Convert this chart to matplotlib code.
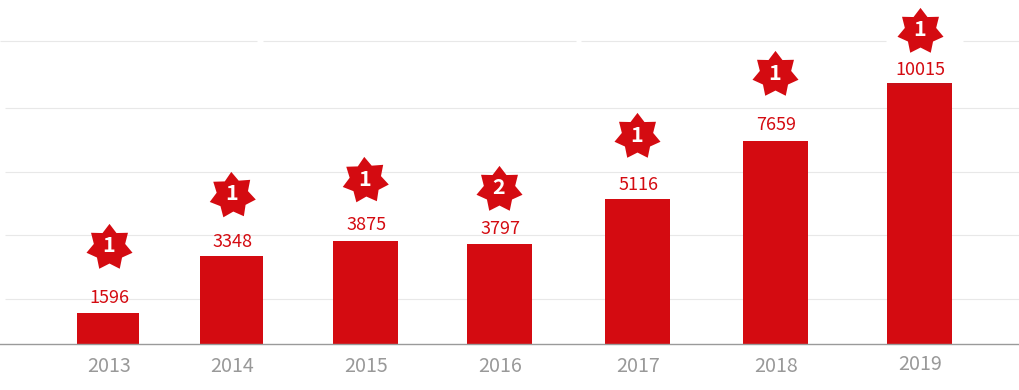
import matplotlib
matplotlib.use('Agg')
import matplotlib.pyplot as plt
from matplotlib.path import Path
from matplotlib.transforms import Affine2D

plt.rcParams['font.family'] = ['Noto Sans CJK KR', 'DejaVu Sans']

years = ['2013', '2014', '2015', '2016', '2017', '2018', '2019']
# printed on the chart
labels = [1596, 3348, 3875, 3797, 5116, 7659, 10015]
ranks = [1, 1, 1, 2, 1, 1, 1]
# bar heights as drawn, the picture does not scale them exactly with the labels
heights = [1190, 3400, 3980, 3870, 5620, 7890, 10150]
grid_levels = [1740, 4240, 6700, 9200]
top_level = 11810

RED = '#d40b11'
px = 39.0  # value units per pixel

centers = [108, 231.5, 365.5, 499.5, 637.5, 775.5, 919.5]
widths = [62, 63, 65, 65, 65, 65, 65]
star_x = [109, 232, 365, 499, 637, 775, 920]
star_y = [247, 195, 180, 189, 136, 74, 31]
star_rot = [0, 3, 3, 0, 0, 0, 0]
label_gap = [6, 5, 7, 6, 5, 7, 4]
year_y = [366, 366, 366, 366, 366, 367, 364]
base_y = 343.5

fig = plt.figure(figsize=(10.19, 3.90), dpi=100)
ax = fig.add_axes([0, 0, 1, 1])
ax.set_xlim(0, 1019)
ax.set_ylim(-(390 - base_y) * px, base_y * px)
ax.axis('off')


def to_val(y):
    return (base_y - y) * px


for g in grid_levels:
    ax.hlines(g, 5, 1019, color='#e8e8e8', lw=0.8, zorder=1)
# top line has gaps in it
for x0, x1 in [(0, 257), (263, 576), (581, 886), (963, 1019)]:
    ax.hlines(top_level, x0, x1, color='#e8e8e8', lw=0.8, zorder=1)
ax.axhline(0, color='#9a9a9a', lw=1, zorder=3)

ax.bar(centers, heights, width=widths, color=RED, zorder=2)
# darker strip on top of the last bar
ax.bar(centers[-1], 3 * px, bottom=heights[-1] - 3 * px, width=widths[-1], color='#c91018', zorder=2)

star = Path.unit_regular_star(7, innerCircle=0.68)

for i in range(len(years)):
    ax.text(centers[i] + 1, heights[i] + label_gap[i] * px, str(labels[i]), color=RED, fontsize=13,
            fontweight='medium', ha='center', va='bottom', zorder=4)
    marker = star.transformed(Affine2D().rotate_deg(star_rot[i]))
    ax.plot(star_x[i], to_val(star_y[i]), marker=marker, ms=34,
            color=RED, mec=RED, mew=0, ls='none', zorder=4)
    ax.text(star_x[i], to_val(star_y[i] - 1), str(ranks[i]), color='white', fontsize=15.5,
            fontweight='bold', ha='center', va='center', zorder=5)
    ax.text(centers[i] + 1, to_val(year_y[i]), years[i], color='#999999', fontsize=14.2,
            fontweight='medium', ha='center', va='center', zorder=4)

fig.savefig('out.png', dpi=100)
